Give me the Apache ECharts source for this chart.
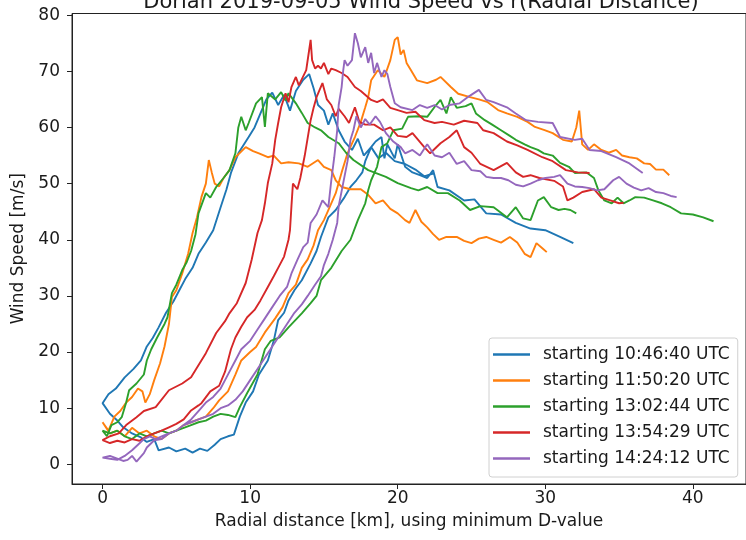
<!DOCTYPE html>
<html><head><meta charset="utf-8">
<script src="https://cdn.jsdelivr.net/npm/echarts@6.0.0/dist/echarts.min.js"></script>
<style>html,body{margin:0;padding:0;background:#fff}#c{width:746px;height:540px}</style>
</head><body><div id="c"></div>
<script>
const titleText = 'Dorian 2019-09-05 Wind Speed vs r(Radial Distance)';
const xAxisName = 'Radial distance [km], using minimum D-value';
const yAxisName = 'Wind Speed [m/s]';
const seriesNames = ['starting 10:46:40 UTC','starting 11:50:20 UTC','starting 13:02:44 UTC','starting 13:54:29 UTC','starting 14:24:12 UTC'];
const xTicks = [0,10,20,30,40];
const yTicks = [0,10,20,30,40,50,60,70,80];

// each pass: leg A and leg B, both listed outward from r = 0
const blueA = [[0,10.9],[0.4,12.5],[0.9,13.5],[1.5,15.5],[2.1,17],[2.6,18.5],[3,21],[3.4,22.5],[3.8,24.4],[4.3,27],[4.8,29],[5.2,31],[5.6,33],[6.1,35],[6.5,37.5],[7,39.5],[7.5,41.7],[8,45.8],[8.4,49],[8.7,51.9],[9.2,55.4],[9.9,58.3],[10.3,60],[10.7,62.5],[11.1,65],[11.5,66.2],[11.9,64],[12.3,65.8],[12.7,63],[13.1,66.5],[13.6,68.5],[14,69.5],[14.3,67],[14.6,64],[15,63],[15.3,60.5],[15.6,62.5],[16,59.5],[16.4,57.5],[16.9,56],[17.3,58],[17.7,55],[18.2,56.5],[18.7,54.5],[19.2,55.5],[19.8,54],[20.5,53.5],[21.2,52.5],[21.8,51.3],[22.4,51.8]];
const blueB = [[0,10.9],[0.5,9],[1,7.8],[1.4,6.6],[2,5.5],[2.6,4.8],[3,4],[3.5,4.5],[3.8,2.5],[4.5,3],[5,2.3],[5.6,2.8],[6.1,2.1],[6.6,2.8],[7.1,2.4],[7.6,3.5],[8,4.5],[8.5,5],[8.9,5.3],[9.3,8.5],[9.7,11],[10.2,13],[10.6,16],[11.2,18.5],[11.6,22],[11.9,25.7],[12.3,27],[12.6,29.2],[13,31],[13.5,32.8],[14.1,35.8],[14.5,38],[14.8,40.5],[15.3,44],[15.8,45.3],[16.4,47.6],[16.8,49.4],[17.2,50.6],[17.6,52],[17.8,54],[18.2,56.5],[18.5,57.5],[18.9,58.3],[19.1,54.5],[19.3,57],[19.8,54.5],[20,57],[20.5,53],[21,52],[21.5,51.5],[22,51],[22.4,52.4],[22.7,49.4],[23.5,48.8],[24.5,47],[25.2,47.2],[26,44.7],[27,44.5],[28,43],[29,42],[30,41.7],[31,40.5],[31.9,39.4]];

const orangeA = [[0,7.5],[0.4,6],[0.8,8.5],[1.2,9.5],[1.6,11],[2,12],[2.4,13.5],[2.7,13],[2.9,11],[3.2,12.5],[3.5,15],[3.9,18],[4.2,21],[4.5,25],[4.7,29.8],[5,31],[5.4,34],[5.8,37.5],[6.1,41.2],[6.4,44],[6.7,47.6],[7,50],[7.2,54.2],[7.4,52],[7.6,50],[7.9,49.5],[8.2,51],[8.6,52.4],[9,54.7],[9.7,56.5],[10.2,55.8],[10.6,55.4],[11.2,54.7],[11.6,55],[12.1,53.6],[12.6,53.8],[13.3,53.6],[13.9,53],[14.6,54.2],[15,53],[15.5,52.4],[15.8,50.6],[16.2,49.4],[16.8,49],[17.5,49],[18,48],[18.5,46.5],[19,47],[19.5,45.5],[20,44.7],[20.5,43.5],[20.8,43],[21.2,45.3],[21.6,43.2],[22,42.2],[22.4,41],[22.8,40],[23.3,40.5],[24,40.5],[24.5,39.8],[25,39.4],[25.5,40.2],[26,40.5],[26.5,40],[27,39.5],[27.6,40.5],[28.1,39.5],[28.6,37.5],[29,36.9],[29.4,39.4],[29.8,38.5],[30.1,37.8]];
const orangeB = [[0,7.5],[0.5,5.5],[1,6],[1.5,5],[2,6.5],[2.5,5.5],[3,6],[3.5,5],[4,4.5],[4.5,5.5],[5,6],[5.5,7],[6,7.5],[6.5,8],[7,8.5],[7.5,10],[7.9,11.4],[8.5,13],[9,16],[9.4,18.5],[10,20],[10.4,20.9],[11,23.5],[11.7,26],[12.2,28],[12.6,30.5],[13.1,32],[13.5,35],[13.9,36.5],[14.3,39],[14.6,41.7],[15,43.5],[15.3,45.3],[15.8,48.3],[16.2,52],[16.6,55.4],[17.1,58.3],[17.5,61],[17.8,63.6],[18,65.4],[18.2,68.4],[18.65,70.2],[19.1,69],[19.5,72],[19.8,75.6],[20,76.1],[20.2,73],[20.4,73.8],[20.6,71.5],[20.9,70.2],[21.3,68.4],[22,67.9],[22.6,68.5],[22.9,69],[23.6,67.2],[24.1,66],[24.9,65.4],[25.5,65],[26.1,64.5],[26.8,63.1],[27.4,62.5],[28.1,61.9],[28.8,61],[29.3,60.1],[30,59.5],[30.5,59],[31.2,57.8],[31.8,57.5],[32.1,60],[32.3,63],[32.5,57],[32.9,56],[33.3,57],[33.8,56],[34.3,55.5],[34.8,56],[35.2,55],[35.7,54.7],[36.2,54.5],[36.7,53.6],[37.1,53.5],[37.5,52.5],[38,52.5],[38.4,51.5]];

const greenA = [[0,6],[0.3,5],[0.6,7],[1,7.5],[1.3,8.4],[1.6,11],[1.8,13.2],[2.3,14.4],[2.8,16],[3,18.5],[3.3,20.5],[3.7,22.6],[4.2,25],[4.4,26.2],[4.7,30.5],[5,32],[5.4,34.6],[5.7,36],[6,38],[6.3,41],[6.5,44.7],[7,48.3],[7.3,47.5],[7.7,49.4],[8.2,51],[8.6,52.4],[9,55.4],[9.2,60],[9.4,61.9],[9.7,59.5],[9.9,60.8],[10.4,64.3],[10.8,65.4],[11,60.1],[11.2,66.1],[11.7,65],[12.1,66.3],[12.4,64.8],[12.6,66.1],[13.1,64.3],[13.5,62.6],[13.9,60.8],[14.4,60],[14.8,59.5],[15.3,58.3],[16,57.2],[16.5,55.5],[17,54.2],[18,52.4],[19.2,51.2],[20,50.1],[20.9,49.2],[21.4,48.8],[22,49.4],[22.7,48.3],[23.4,48.3],[24.2,47],[24.9,45.3],[25.6,46],[26.5,45.8],[27.4,44],[28,45.8],[28.5,43.8],[29,43.5],[29.5,47],[29.9,47.6],[30.4,45.8],[30.9,45.3],[31.3,45.5],[31.7,45.3],[32.1,44.7]];
const greenB = [[0,6],[0.5,5.5],[1,6],[1.5,5],[2,4.5],[2.5,5.5],[3,5],[3.5,5.5],[4,6],[4.5,5.5],[5,6],[5.5,6.5],[6,7],[6.5,7.5],[7,7.8],[7.5,8.5],[8,9],[8.5,8.8],[9,8.4],[9.3,10.2],[9.8,12.7],[10.5,16],[11,20.5],[11.4,22],[12,22.6],[12.6,24.4],[13.5,26.9],[14.1,28.7],[14.5,30],[14.8,32.8],[15.5,35],[16.2,38],[16.8,40],[17.3,43.5],[17.8,46.5],[18,48.8],[18.2,50.6],[18.6,53],[18.9,56.5],[19.3,57.2],[19.7,59.5],[20.3,59.8],[20.7,61.9],[21.5,62],[22,61.9],[22.6,64],[22.9,64.9],[23.3,62.5],[23.6,65.4],[24,63.5],[24.6,63.8],[25,64.3],[25.3,62.5],[25.9,61.3],[26.4,60.5],[27,59.5],[27.6,58.5],[28,57.8],[28.6,57],[29,56.5],[29.5,56],[29.9,55.4],[30.5,55],[31,53.7],[31.6,53],[32,51.9],[32.8,52],[33.3,51],[33.6,48.8],[34,47],[34.5,46.5],[34.9,47.5],[35.3,46.5],[35.7,47],[36.1,47.6],[36.7,47.5],[37.3,47],[37.9,46.5],[38.5,45.8],[39.2,44.7],[40,44.5],[40.7,44],[41.4,43.3]];

const redA = [[0,4.3],[0.5,5],[1.1,5.5],[1.6,7],[2.3,8.4],[2.8,9.5],[3.6,10.2],[4.5,13.2],[5.4,14.4],[6,15.5],[6.3,16.8],[7,19.8],[7.7,23.4],[8.3,25.5],[8.6,26.9],[9.1,28.7],[9.7,32.3],[10.1,36.4],[10.5,41.2],[10.8,43.5],[11,46.5],[11.2,50.1],[11.5,53.6],[11.7,57.8],[11.9,60.8],[12.1,63.6],[12.4,66.1],[12.6,64.5],[12.8,67.2],[13.1,69],[13.3,67.5],[13.8,70.2],[14,73.8],[14.1,75.6],[14.2,72],[14.4,70.5],[14.6,71],[14.8,70.5],[15,71.5],[15.3,69.5],[15.5,70.5],[15.8,70.2],[16.2,69.7],[16.6,69],[17.1,67.2],[17.5,66.5],[18.2,64.9],[18.6,64.5],[19,65],[19.5,63.5],[20,63.1],[20.6,62.6],[21.2,62.8],[21.8,61.3],[22.5,60.8],[23,61],[23.8,60.5],[24.5,61.2],[25.4,60.8],[25.8,59.5],[26.5,59],[27.4,57.5],[28.1,56.8],[28.8,56],[29.8,54.7],[30.5,54],[31.4,52.4],[32.2,52],[33,51.9]];
const redB = [[0,4.3],[0.5,3.8],[1,4.2],[1.5,3.9],[2,4.5],[2.5,4.2],[3,5],[3.5,5.5],[4,6],[4.5,6.6],[5,7.2],[5.5,8],[6,9.6],[6.5,10.5],[6.7,10.9],[7.3,13],[7.9,14],[8.3,16.5],[8.7,20.5],[9,22.6],[9.4,24.5],[9.8,26.2],[10.3,27.5],[10.7,29.2],[11.2,31.6],[11.6,33.5],[11.9,35],[12.3,37],[12.6,40],[12.7,41.7],[12.8,46],[12.9,50],[13.2,49],[13.4,51],[13.7,55],[14.1,61.3],[14.3,63.5],[14.5,65.4],[14.9,67.9],[15.2,65],[15.5,64],[15.8,62],[16,63.3],[16.4,62],[16.7,60.8],[17.1,63.6],[17.4,61],[17.8,60.5],[18.4,60.5],[19,59.5],[19.5,60],[20,58.5],[20.6,58.3],[21,59],[21.8,56.5],[22.2,55.4],[22.9,57.2],[23.5,58.3],[24,59.5],[24.5,56.5],[25,55.5],[25.6,53.5],[26.5,52.4],[27.4,53.7],[28,52],[28.5,51.2],[29,51.5],[29.6,51],[30.6,50.5],[31.2,49.5],[31.5,47],[31.9,47.5],[32.5,48.5],[33.3,49],[33.8,47.5],[34.4,47],[35,46.5],[35.3,46.6]];

const purpleA = [[0,1.2],[0.5,1.5],[1,1],[1.4,0.6],[1.7,0.8],[2,1.5],[2.3,0.5],[2.8,2],[3,3],[3.5,4.3],[4,4.5],[4.5,5.5],[5,6],[5.5,7],[6,8],[6.5,9.5],[7,11],[7.5,12],[8,13.5],[8.3,15],[8.7,17],[9,18.5],[9.4,20.5],[10,22],[10.5,24],[11,26],[11.5,28],[12,30],[12.5,31.6],[12.8,34],[13.2,36.4],[13.6,38.7],[13.9,39.5],[14.1,43],[14.5,44.5],[14.9,47],[15.3,45.8],[15.5,50.6],[15.7,54.7],[15.9,59.5],[16,64],[16.2,67.2],[16.3,70],[16.4,72],[16.6,71],[16.9,72],[17.1,76.8],[17.3,75],[17.5,72.5],[17.8,74.3],[18,71.5],[18.2,73.3],[18.4,69.7],[18.6,71.5],[18.9,69],[19.1,70.2],[19.3,69.5],[19.5,67.2],[19.8,64.3],[20.2,63.6],[21,63.1],[21.5,64],[22,63.5],[22.5,64],[23,63.2],[23.5,64],[24.2,64.3],[24.8,65.5],[25.5,66.7],[26,64.9],[26.5,64.5],[27.4,63.6],[28,62.5],[28.7,61.3],[29.5,61],[30.5,60.8],[31,58.3],[32,57.8],[32.5,58],[33,56],[33.8,55.8],[34.8,54.7],[35.7,53.6],[36.6,51.9]];
const purpleB = [[0,1.2],[0.5,1],[1,0.8],[1.5,1.5],[2,2.5],[2.4,3.5],[2.8,4.5],[3.2,5],[3.6,4.5],[4,5],[4.5,5.5],[5,6],[5.5,7],[6,7.5],[6.5,8],[7,8.5],[7.5,9],[8,10],[8.5,10.5],[9,11.5],[9.5,13],[10,15],[10.5,17],[11,19],[11.5,21],[12,23],[12.5,25],[13,27],[13.5,28.5],[13.9,30],[14.4,32],[14.8,33.5],[15,35.5],[15.3,37.5],[15.6,40],[15.9,43],[16,46],[16.3,50],[16.6,54],[16.8,57.8],[17,59.5],[17.2,62],[17.5,60],[17.8,61.5],[18.1,60.5],[18.5,62],[18.8,61],[19.2,59],[19.7,57.5],[20.2,56.5],[20.5,55.4],[21,56],[21.5,55],[22,57],[22.5,55],[23,54.7],[23.5,55.5],[24,53.5],[24.5,54],[25,52.4],[25.6,52.2],[26,51.2],[26.5,51],[27,51],[27.5,50.6],[28,49.8],[28.5,49.5],[29,50],[29.5,50.6],[30,51],[30.6,51.2],[31,51.5],[31.5,50],[32,49.5],[32.5,49.4],[33,49.2],[33.5,48.8],[34,49],[34.6,50.6],[35,51.2],[35.5,50],[36,49.3],[36.5,48.8],[37,49.2],[37.5,48.5],[38,48.3],[38.5,47.8],[38.9,47.6]];

const legs = [[blueA, blueB],[orangeA, orangeB],[greenA, greenB],[redA, redB],[purpleA, purpleB]];
const colors = ['#1f77b4','#ff7f0e','#2ca02c','#d62728','#9467bd'];
const FONT = 'DejaVu Sans';
const TXT = '#1a1a1a';

const chart = echarts.init(document.getElementById('c'), null, {renderer:'canvas'});
const series = legs.map((lg, i) => ({
  name: seriesNames[i],
  type: 'line',
  data: lg[0].slice().reverse().concat(lg[1].slice(1)),
  showSymbol: false,
  symbol: 'none',
  lineStyle: {color: colors[i], width: 1.9},
  itemStyle: {color: colors[i]},
  emphasis: {disabled: true},
  animation: false
}));

chart.setOption({
  animation: false,
  backgroundColor: '#fff',
  title: {
    text: titleText, left: 416, top: -13, textAlign: 'center',
    textStyle: {fontFamily: FONT, fontSize: 21, fontWeight: 'normal', color: TXT}
  },
  grid: {left: 72, top: 13.5, width: 678, height: 470.5, show: true, borderColor: '#222', borderWidth: 1, backgroundColor: 'transparent'},
  legend: {
    orient: 'vertical', left: 489, top: 338,
    padding: [7, 8, 9, 4],
    backgroundColor: 'rgba(255,255,255,0.85)', borderColor: '#d0d0d0', borderWidth: 1, borderRadius: 3,
    icon: 'rect', itemWidth: 37, itemHeight: 2.5, itemGap: 7,
    textStyle: {fontFamily: FONT, fontSize: 17, color: TXT, lineHeight: 19, padding: [0,0,0,8]},
    data: seriesNames
  },
  xAxis: {
    type: 'value', min: -2.07, max: 43.6,
    name: xAxisName, nameLocation: 'middle', nameGap: 29,
    nameTextStyle: {fontFamily: FONT, fontSize: 17, color: TXT},
    axisLine: {show: true, onZero: false, lineStyle: {color: '#222', width: 1}},
    axisTick: {show: true, customValues: xTicks, length: 5, lineStyle: {color: '#222'}},
    axisLabel: {customValues: xTicks, margin: 6, fontFamily: FONT, fontSize: 17, color: TXT},
    splitLine: {show: false}
  },
  yAxis: {
    type: 'value', min: -3.5, max: 80.3,
    name: yAxisName, nameLocation: 'middle', nameGap: 45, nameRotate: 90,
    nameTextStyle: {fontFamily: FONT, fontSize: 17, color: TXT},
    axisLine: {show: true, onZero: false, lineStyle: {color: '#222', width: 1}},
    axisTick: {show: true, customValues: yTicks, length: 5, lineStyle: {color: '#222'}},
    axisLabel: {customValues: yTicks, margin: 12, fontFamily: FONT, fontSize: 17, color: TXT},
    splitLine: {show: false}
  },
  series: series
});
</script>
</body></html>
